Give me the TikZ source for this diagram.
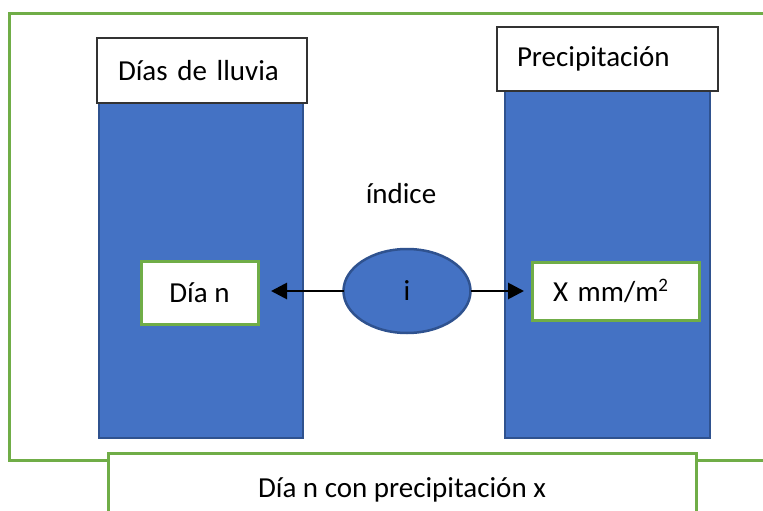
\documentclass[tikz,border=0pt]{standalone}
\usepackage{fontspec}
\setmainfont{Carlito}
\usetikzlibrary{arrows.meta,shapes.geometric}
\definecolor{blueF}{HTML}{4472C4}
\definecolor{blueD}{HTML}{2F528F}
\definecolor{greenB}{HTML}{70AD47}
\begin{document}
\begin{tikzpicture}[x=1pt,y=-1pt,
  every node/.style={inner sep=0pt, outer sep=0pt},
  txt/.style={font=\fontsize{29}{35}\selectfont},
  frame/.style={draw=greenB, line width=3pt, rectangle},
  col/.style={draw=blueD, fill=blueF, line width=2.5pt, rectangle},
  lbl/.style={draw=black!80, fill=white, line width=1.8pt, rectangle, txt, align=left},
  gbox/.style={draw=greenB, fill=white, line width=3pt, rectangle, txt},
  ell/.style={ellipse, draw=blueD, fill=blueF, line width=2.5pt, txt},
  arr/.style={line width=2.8pt, -{Triangle[length=16pt,width=16pt]}}
]
\useasboundingbox (0,0) rectangle (763,511);
\clip (0,0) rectangle (763,511);
% outer frame
\node[frame, minimum width=781pt, minimum height=446pt] (outer) at (399.5,237) {};
% columns
\node[col, minimum width=204pt, minimum height=338pt] (lcol) at (201,269) {};
\node[col, minimum width=205pt, minimum height=350pt] (rcol) at (607.5,263) {};
% column labels
\node[lbl, minimum width=210pt, minimum height=65pt, text width=168pt, inner xsep=21pt] (llbl) at (202,70.5) {Días de lluvia};
\node[lbl, minimum width=221pt, minimum height=64pt, text width=181pt, inner xsep=20pt] (rlbl) at (607.5,59) {Precipitación};
% inner boxes
\node[gbox, minimum width=117pt, minimum height=63pt] (dian) at (199.5,292.5) {Día n};
\node[gbox, minimum width=167pt, minimum height=58pt, text width=125pt, inner xsep=21pt, align=left] (xb) at (615.5,291) {X mm/m\raisebox{0.36em}{\fontsize{19}{22}\selectfont 2}};
% index
\node[txt] (indice) at (401,194) {índice};
\node[ell, minimum width=127pt, minimum height=84pt] (el) at (407,291) {i};
% arrows
\draw[arr, shorten >=13pt] (el.west) -- (el.west -| dian.east);
\draw[arr, shorten >=8pt] (el.east) -- (el.east -| xb.west);
% bottom box
\node[gbox, minimum width=588pt, minimum height=74pt] (bottom) at (402,490) {Día n con precipitación x};
\end{tikzpicture}
\end{document}
